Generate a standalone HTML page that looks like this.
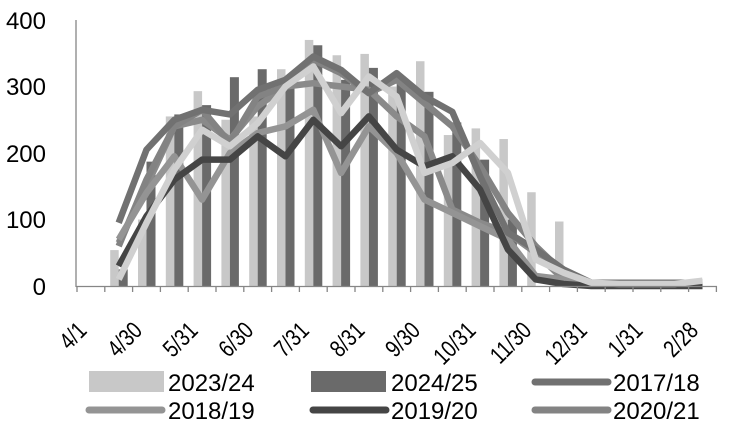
<!DOCTYPE html>
<html><head><meta charset="utf-8"><style>
html,body{margin:0;padding:0;background:#fff;width:730px;height:431px;overflow:hidden}
svg text{font-family:"Liberation Sans",sans-serif;fill:#000}
</style></head><body>
<svg id="c" width="730" height="431" xmlns="http://www.w3.org/2000/svg">
<g id="bars"></g><g id="lines"></g>
<line x1="76" y1="20" x2="76" y2="287" stroke="#868686" stroke-width="1.3"/>
<line x1="76" y1="286.5" x2="717" y2="286.5" stroke="#868686" stroke-width="1.3"/>
<g id="ticks"></g>
<g font-size="24" text-anchor="end">
<text x="46" y="29">400</text><text x="46" y="95">300</text><text x="46" y="162">200</text><text x="46" y="228">100</text><text x="46" y="295">0</text>
</g>
<g font-size="24" text-anchor="end">
<text transform="translate(88,332) rotate(-45) scale(0.8,1)">4/1</text>
<text transform="translate(143.6,332) rotate(-45) scale(0.8,1)">4/30</text>
<text transform="translate(199.2,332) rotate(-45) scale(0.8,1)">5/31</text>
<text transform="translate(254.8,332) rotate(-45) scale(0.8,1)">6/30</text>
<text transform="translate(310.4,332) rotate(-45) scale(0.8,1)">7/31</text>
<text transform="translate(366,332) rotate(-45) scale(0.8,1)">8/31</text>
<text transform="translate(421.6,332) rotate(-45) scale(0.8,1)">9/30</text>
<text transform="translate(477.2,332) rotate(-45) scale(0.8,1)">10/31</text>
<text transform="translate(532.8,332) rotate(-45) scale(0.8,1)">11/30</text>
<text transform="translate(588.4,332) rotate(-45) scale(0.8,1)">12/31</text>
<text transform="translate(644,332) rotate(-45) scale(0.8,1)">1/31</text>
<text transform="translate(699.6,332) rotate(-45) scale(0.8,1)">2/28</text>
</g>
<g font-size="24">
<rect x="89" y="371" width="75" height="21" fill="#c8c8c8"/><text x="168" y="391">2023/24</text>
<rect x="311" y="371" width="75" height="21" fill="#6a6a6a"/><text x="391" y="391">2024/25</text>
<line x1="535" y1="382" x2="608" y2="382" stroke="#717171" stroke-width="7" stroke-linecap="round"/><text x="613" y="391">2017/18</text>
<line x1="89" y1="410" x2="162" y2="410" stroke="#949494" stroke-width="7" stroke-linecap="round"/><text x="168" y="419">2018/19</text>
<line x1="313" y1="410" x2="386" y2="410" stroke="#454545" stroke-width="7" stroke-linecap="round"/><text x="391" y="419">2019/20</text>
<line x1="535" y1="410" x2="608" y2="410" stroke="#838383" stroke-width="7" stroke-linecap="round"/><text x="613" y="419">2020/21</text>
</g>
</svg>
<script>
var NS="http://www.w3.org/2000/svg";
function Y(v){return 286-0.665*v}
function C(i){return 77+27.8*(i+0.5)}
var light=[54,100,255,293,250,255,326,370,347,349,300,338,227,237,221,141,97];
var dark=[25,187,258,272,314,326,300,362,310,328,310,292,246,190,100];
var b=document.getElementById('bars');
function rect(x,w,v,f){var r=document.createElementNS(NS,'rect');r.setAttribute('x',x);r.setAttribute('y',Y(v));r.setAttribute('width',w);r.setAttribute('height',286-Y(v));r.setAttribute('fill',f);b.appendChild(r);}
light.forEach(function(v,k){rect(C(k+1)-8.5,8.5,v,'#c8c8c8')});
dark.forEach(function(v,k){rect(C(k+1),9,v,'#6a6a6a')});
var series=[
['#8a8a8a',[65,150,240,250,220,270,300,305,300,295,255,225,115,95,80,50,10,3,3,3,3,3]],
['#838383',[60,160,240,265,215,285,300,340,320,290,310,275,240,180,110,60,20,3,3,3,3,3]],
['#949494',[70,140,195,130,200,230,240,265,170,240,200,130,110,90,70,15,10,3,3,3,3,3]],
['#717171',[95,205,250,265,258,295,310,345,325,290,320,285,262,165,80,55,25,5,5,5,5,5]],
['#454545',[30,105,160,190,190,225,195,250,210,255,205,180,195,145,55,10,3,0,0,0,0,0]],
['#d0d0d0',[10,95,175,235,210,245,300,330,260,315,285,170,185,215,170,40,20,5,3,3,3,8]]
];
var L=document.getElementById('lines');
series.forEach(function(s){var p=s[1].map(function(v,k){return C(k+1).toFixed(1)+','+Y(v).toFixed(1)}).join(' ');
var e=document.createElementNS(NS,'polyline');e.setAttribute('points',p);e.setAttribute('fill','none');e.setAttribute('stroke',s[0]);e.setAttribute('stroke-width','6.5');e.setAttribute('stroke-linejoin','round');L.appendChild(e);});
var T=document.getElementById('ticks');
for(var i=0;i<=23;i++){var x=77+27.8*i;var l=document.createElementNS(NS,'line');l.setAttribute('x1',x);l.setAttribute('x2',x);l.setAttribute('y1',286);l.setAttribute('y2',292);l.setAttribute('stroke','#868686');l.setAttribute('stroke-width','1.3');T.appendChild(l);}
</script>
</body></html>
